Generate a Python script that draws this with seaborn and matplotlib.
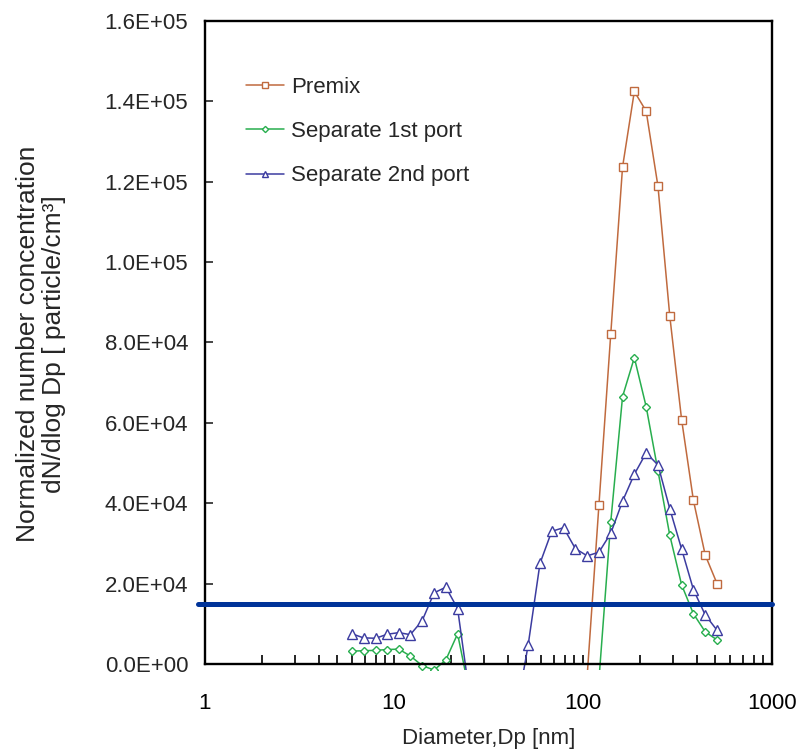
import numpy as np
import pandas as pd
import matplotlib
matplotlib.use("Agg")
import matplotlib.pyplot as plt
from matplotlib.patches import Rectangle
from matplotlib.lines import Line2D
from matplotlib.ticker import FuncFormatter, FixedLocator, LogLocator, NullFormatter
import seaborn as sns

# ---- data ----
diameter = [6.0, 6.9, 8.0, 9.2, 10.6, 12.2, 14.1, 16.3, 18.8, 21.7, 25.0,
            28.9, 33.3, 38.5, 44.4, 51.3, 59.2, 68.3, 78.9, 91.1, 105.2,
            121.4, 140.2, 161.9, 186.9, 215.9, 249.3, 287.9, 332.4, 383.9,
            443.3, 511.9]

premix = [None, None, None, None, None, None, None, None, None, None, None,
          None, None, None, None, None, None, None, None, None, -3000,
          39500, 82000, 123600, 142400, 137500, 118800, 86500, 60800, 40700,
          27100, 20000]

sep1st = [3200, 3300, 3400, 3600, 3700, 2000, -400, -1500, 1000, 7500, -6700,
          None, None, None, None, None, None, None, None, None, None,
          -4000, 35300, 66500, 76200, 64000, 48000, 32000, 19700, 12500,
          8000, 6000]

sep2nd = [7500, 6500, 6400, 7400, 7800, 7300, 10800, 17700, 19100, 13800, -7100,
          None, None, None, -12000, 4800, 25000, 33000, 33900, 28700, 26900,
          27800, 32500, 40500, 47200, 52500, 49500, 38600, 28600, 18500,
          12200, 8400]

series_names = ["Premix", "Separate 1st port", "Separate 2nd port"]
series_values = [premix, sep1st, sep2nd]
threshold = 15000

colors = {"Premix": "#C06A3E", "Separate 1st port": "#28AE4E", "Separate 2nd port": "#3C3CA0"}
markers = {"Premix": "s", "Separate 1st port": "D", "Separate 2nd port": "^"}
msizes = {"Premix": 6.0, "Separate 1st port": 4.5, "Separate 2nd port": 6.5}

# build long table with segments split at missing values
rows = []
for name, vals in zip(series_names, series_values):
    seg = 0
    prev_none = True
    for d, v in zip(diameter, vals):
        if v is None:
            prev_none = True
            continue
        if prev_none:
            seg += 1
            prev_none = False
        rows.append({"Diameter": d, "Value": v, "Series": name, "Segment": seg})
df = pd.DataFrame(rows)

sns.set_style("white")
plt.rcParams["font.family"] = ["Liberation Sans", "DejaVu Sans"]
plt.rcParams["xtick.direction"] = "in"
plt.rcParams["ytick.direction"] = "in"

FS = 16

fig = plt.figure(figsize=(8.0, 7.54), dpi=100)
ax = fig.add_axes([205 / 800, 1 - 664 / 754, 567 / 800, 643.3 / 754])

for name in series_names:
    sub = df[df["Series"] == name]
    for seg, g in sub.groupby("Segment"):
        sns.lineplot(data=g, x="Diameter", y="Value", ax=ax, sort=False,
                     estimator=None, color=colors[name], lw=1.1,
                     marker=markers[name], markersize=msizes[name],
                     markerfacecolor="white", markeredgecolor=colors[name],
                     markeredgewidth=1.0, legend=False)

clip_rect = Rectangle((0, -0.009), 1, 1.009, transform=ax.transAxes)
for line in ax.lines:
    line.set_clip_path(clip_rect)

ax.axhline(threshold, xmin=-0.0125, xmax=1.0, color="#003399", lw=3.6,
           clip_on=False, zorder=10)

ax.set_xscale("log")
ax.set_xlim(1, 1000)
ax.set_ylim(0, 160000)
ax.yaxis.set_major_locator(FixedLocator(np.arange(0, 160001, 20000)))
ax.yaxis.set_major_formatter(FuncFormatter(lambda v, _: f"{v:.1E}"))
ax.xaxis.set_major_locator(FixedLocator([1, 10, 100, 1000]))
ax.xaxis.set_major_formatter(FuncFormatter(lambda v, _: f"{v:g}"))
ax.xaxis.set_minor_locator(LogLocator(base=10, subs=np.arange(2, 10)))
ax.xaxis.set_minor_formatter(NullFormatter())

ax.tick_params(axis="x", which="both", direction="in", length=6.5, width=1.2,
               labelsize=FS, pad=21, colors="black", bottom=True, top=False)
ax.tick_params(axis="y", which="both", direction="in", length=6, width=1.2,
               labelsize=FS, pad=12, left=True, right=False)
ax.tick_params(axis="y", which="minor", left=False)

for sp in ax.spines.values():
    sp.set_visible(True)
    sp.set_color("black")
    sp.set_linewidth(1.7)

ax.set_xlabel("Diameter,Dp [nm]", fontsize=FS)
ax.xaxis.set_label_coords(0.5, -0.100)
ax.set_ylabel("")
fig.text(41 / 800, 1 - 344 / 754,
         "Normalized number concentration\ndN/dlog Dp [ particle/cm³]",
         rotation=90, rotation_mode="anchor", ha="center", va="center",
         fontsize=19, linespacing=1.15, multialignment="center")

handles = [Line2D([0], [0], color=colors[n], lw=1.1, marker=markers[n],
                  markersize=msizes[n] * 0.7, markerfacecolor="white",
                  markeredgecolor=colors[n], markeredgewidth=1.0)
           for n in series_names]
leg = ax.legend(handles, series_names, loc="upper left",
                bbox_to_anchor=(0.072, 0.913), frameon=False, fontsize=FS,
                handlelength=1.7, handletextpad=0.35, labelspacing=1.05,
                borderpad=0, borderaxespad=0)

fig.savefig("out.png", dpi=100)
